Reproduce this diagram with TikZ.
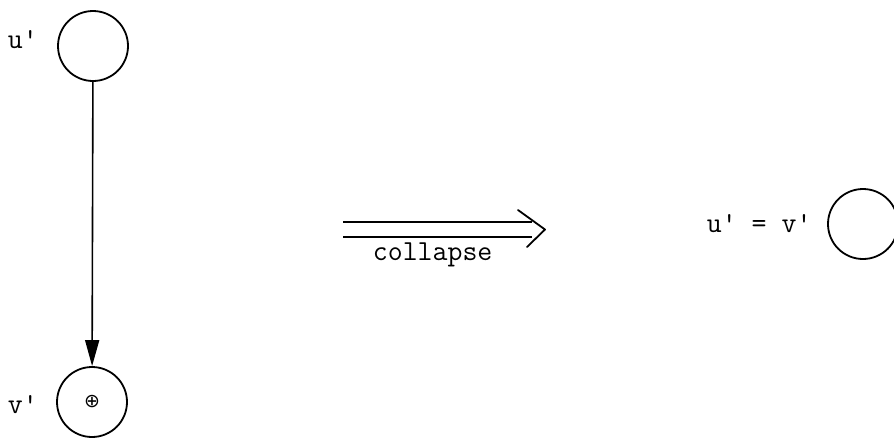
\documentclass[tikz,border=0pt]{standalone}
\usepackage{fontspec}
\newfontfamily\symfont{DejaVu Sans}
\usetikzlibrary{arrows.meta}
\begin{document}
\begin{tikzpicture}[x=1pt,y=-1pt,line width=1.8pt,
  lbl/.style={anchor=base west,inner sep=0pt,font=\ttfamily\fontsize{29}{34}\selectfont},
  vertex/.style={draw,circle,minimum size=70pt,inner sep=0pt,line width=1.8pt},
  edgearrow/.style={-{Triangle[length=26pt,width=14pt]},line width=1.6pt}
]
\clip (0,0) rectangle (894,440);
\fill[white] (0,0) rectangle (894,440);
% left graph
\node[vertex] (u) at (93,46) {};
\node[vertex] (v) at (92,402) {\raisebox{1pt}{\symfont\fontsize{19}{19}\selectfont ⊕}};
\node[lbl] (ulbl) at (7,48) {u'};
\node[lbl] (vlbl) at (7,413) {v'};
\draw[edgearrow] (u) -- (v);
% collapse arrow
\coordinate (aS) at (343,229.5);
\coordinate (aE) at (532,229.5);
\coordinate (hT) at (518,210);
\coordinate (hTip) at (545,229.5);
\coordinate (hB) at (527,247);
\draw[double distance=12.5pt,line width=1.8pt] (aS) -- (aE);
\draw[line join=round,line cap=round] (hT) -- (hTip) -- (hB);
\node[lbl] (coll) at (372,260) {collapse};
% result
\node[lbl] (eq) at (706,232) {u' = v'};
\node[vertex] (w) at (863,224) {};
\end{tikzpicture}
\end{document}
